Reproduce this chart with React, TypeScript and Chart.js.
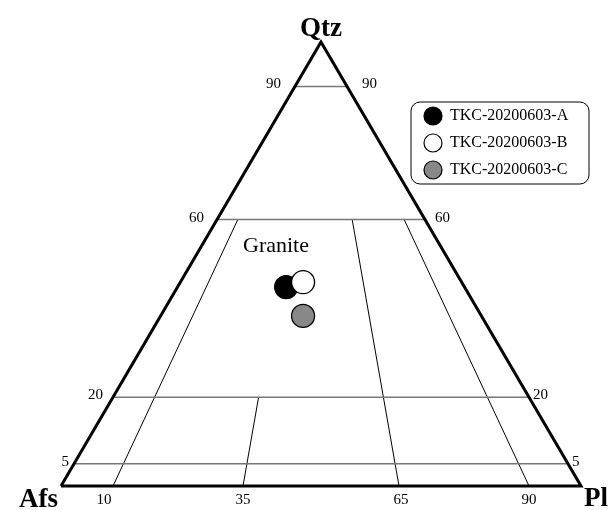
import React, { useEffect, useRef } from "react";
import { Chart, registerables } from "chart.js";

Chart.register(...registerables);

// ---- data ----
const sampleNames = ["TKC-20200603-A", "TKC-20200603-B", "TKC-20200603-C"];
const sampleQ = [44.8, 45.9, 38.3];
const sampleA = [34.3, 30.5, 34.3];
const sampleP = [20.9, 23.6, 27.4];

const qLevels = [90, 60, 20, 5]; // horizontal boundaries (% Qtz)
const qTickLabels = ["90", "60", "20", "5"];
const ratioLevels = [10, 35, 65, 90]; // P/(A+P) %
const ratioTops = [60, 20, 60, 60]; // Qtz % where each ratio line ends
const baseTickLabels = ["10", "35", "65", "90"];
const apexLabels = ["Qtz", "Afs", "Pl"];
const fieldLabel = "Granite";

// ---- styles ----
const sampleFill = ["#000000", "#ffffff", "#888888"];
const FONT = '"Liberation Serif", "DejaVu Serif", serif';

// ternary -> cartesian (x: 0..100 base, y: Qtz %)
const toXY = (q: number, r: number) => ({ x: ((100 - q) * r) / 100 + q / 2, y: q });

export default function App() {
  const ref = useRef<HTMLCanvasElement | null>(null);

  useEffect(() => {
    if (!ref.current) return;

    const lineDatasets: any[] = [];
    // outline
    lineDatasets.push({
      data: [toXY(0, 0), toXY(0, 100), toXY(100, 0), toXY(0, 0)],
      showLine: true,
      borderColor: "#000",
      borderWidth: 3,
      borderJoinStyle: "miter",
      pointRadius: 0,
      order: 5,
      clip: false,
    });
    qLevels.forEach((q) => {
      lineDatasets.push({
        data: [toXY(q, 0), toXY(q, 100)],
        showLine: true,
        borderColor: "#777",
        borderWidth: 1.5,
        pointRadius: 0,
        order: 6,
        clip: false,
      });
    });
    ratioLevels.forEach((r, i) => {
      lineDatasets.push({
        data: [toXY(0, r), toXY(ratioTops[i], r)],
        showLine: true,
        borderColor: "#000",
        borderWidth: 1,
        pointRadius: 0,
        order: 6,
        clip: false,
      });
    });

    const sampleDatasets = sampleNames.map((name, i) => {
      const tot = sampleQ[i] + sampleA[i] + sampleP[i];
      const q = (sampleQ[i] / tot) * 100;
      const r = (sampleP[i] / (sampleA[i] + sampleP[i])) * 100;
      return {
        label: name,
        data: [toXY(q, r)],
        pointRadius: 11.5,
        pointBackgroundColor: sampleFill[i],
        pointBorderColor: "#000",
        pointBorderWidth: 1.3,
        order: 3 - i,
        clip: false,
      };
    });

    const textPlugin = {
      id: "ternaryText",
      afterDatasetsDraw(chart: any) {
        const ctx = chart.ctx;
        const xs = chart.scales.x;
        const ys = chart.scales.y;
        const px = (p: { x: number; y: number }) => [xs.getPixelForValue(p.x), ys.getPixelForValue(p.y)];
        ctx.save();
        ctx.fillStyle = "#000";

        // apex labels
        ctx.font = `bold 27px ${FONT}`;
        ctx.textBaseline = "alphabetic";
        const [ax, ay] = px(toXY(100, 0));
        ctx.textAlign = "center";
        ctx.fillText(apexLabels[0], ax, ay - 6);
        const [lx, ly] = px(toXY(0, 0));
        ctx.textAlign = "right";
        ctx.fillText(apexLabels[1], lx - 3, ly + 21);
        const [rx, ry] = px(toXY(0, 100));
        ctx.textAlign = "left";
        ctx.fillText(apexLabels[2], rx + 3, ry + 20);

        // Qtz tick labels
        ctx.font = `15px ${FONT}`;
        ctx.textBaseline = "middle";
        const gapL = [14, 13, 10, 5];
        const gapR = [15, 10, 4, 4];
        qLevels.forEach((q, i) => {
          const [x1, y1] = px(toXY(q, 0));
          const [x2, y2] = px(toXY(q, 100));
          ctx.textAlign = "right";
          ctx.fillText(qTickLabels[i], x1 - gapL[i], y1 - 2);
          ctx.textAlign = "left";
          ctx.fillText(qTickLabels[i], x2 + gapR[i], y2 - 2);
        });

        // base tick labels
        const offX = [-9, 0, 2, 0];
        ctx.textAlign = "center";
        ratioLevels.forEach((r, i) => {
          const [x, y] = px(toXY(0, r));
          ctx.fillText(baseTickLabels[i], x + offX[i], y + 14);
        });

        // field label
        ctx.font = `22px ${FONT}`;
        ctx.textAlign = "left";
        ctx.textBaseline = "alphabetic";
        ctx.fillText(fieldLabel, xs.getPixelForValue(35), ys.getPixelForValue(52.7));

        // legend box
        const bx = 411, by = 102, bw = 178, bh = 82, rad = 9;
        ctx.beginPath();
        ctx.moveTo(bx + rad, by);
        ctx.arcTo(bx + bw, by, bx + bw, by + bh, rad);
        ctx.arcTo(bx + bw, by + bh, bx, by + bh, rad);
        ctx.arcTo(bx, by + bh, bx, by, rad);
        ctx.arcTo(bx, by, bx + bw, by, rad);
        ctx.closePath();
        ctx.fillStyle = "#fff";
        ctx.fill();
        ctx.strokeStyle = "#000";
        ctx.lineWidth = 1;
        ctx.stroke();
        ctx.font = `16px ${FONT}`;
        ctx.textBaseline = "middle";
        sampleNames.forEach((name, i) => {
          const cy = 116 + i * 27;
          ctx.beginPath();
          ctx.arc(433, cy, 9, 0, Math.PI * 2);
          ctx.fillStyle = sampleFill[i];
          ctx.fill();
          ctx.lineWidth = 1.2;
          ctx.strokeStyle = "#000";
          ctx.stroke();
          ctx.fillStyle = "#000";
          ctx.fillText(name, 450, cy);
        });
        ctx.restore();
      },
    };

    const chart = new Chart(ref.current, {
      type: "scatter",
      data: { datasets: [...lineDatasets, ...sampleDatasets] },
      options: {
        responsive: false,
        animation: false,
        events: [],
        layout: { padding: { left: 61, right: 35, top: 42, bottom: 24 } },
        scales: {
          x: { type: "linear", min: 0, max: 100, display: false },
          y: { type: "linear", min: 0, max: 100, display: false },
        },
        plugins: { legend: { display: false }, tooltip: { enabled: false } },
      },
      plugins: [textPlugin],
    });
    return () => chart.destroy();
  }, []);

  return (
    <div style={{ position: "fixed", left: 0, top: 0, width: 616, height: 510, background: "#fff" }}>
      <canvas ref={ref} width={616} height={510} />
    </div>
  );
}
